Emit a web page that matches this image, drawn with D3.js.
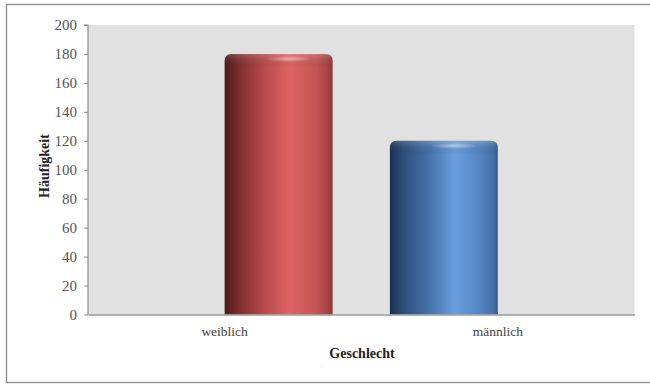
<!DOCTYPE html>
<html>
<head>
<meta charset="utf-8">
<script src="https://cdn.jsdelivr.net/npm/d3@7"></script>
<style>
  html, body { margin: 0; padding: 0; background: #fff; }
  svg { display: block; }
  text { font-family: "Liberation Serif", "Times New Roman", serif; }
</style>
</head>
<body>
<svg id="chart" width="650" height="385"></svg>
<script>
// Chart data
const categories = ["weiblich", "männlich"];
const seriesNames = ["männlich", "weiblich"];          // slot order inside each category group
const counts = { weiblich: 180, männlich: 120 };
const yTicks = [0, 20, 40, 60, 80, 100, 120, 140, 160, 180, 200];
const yTitle = "Häufigkeit";
const xTitle = "Geschlecht";

const svg = d3.select("#chart");
const plot = { left: 88, right: 634.5, top: 25, bottom: 314.5 };

// Outer frame
svg.append("rect")
  .attr("x", 6.5).attr("y", 4.5)
  .attr("width", 660).attr("height", 378)
  .attr("fill", "#fff").attr("stroke", "#8c8c8c").attr("stroke-width", 1.3);

// Plot background
svg.append("rect")
  .attr("x", plot.left).attr("y", plot.top)
  .attr("width", plot.right - plot.left).attr("height", plot.bottom - plot.top)
  .attr("fill", "#e1e1e1");

// Scales
const x0 = d3.scaleBand().domain(categories).range([plot.left, plot.right]).padding(0);
const x1 = d3.scaleBand().domain(seriesNames).range([0, x0.bandwidth()])
  .paddingInner(0).paddingOuter(0.265);
const y = d3.scaleLinear().domain([0, 200]).range([plot.bottom, plot.top]);

// Gradients: cylinder-like horizontal shading
const defs = svg.append("defs");
const palettes = {
  weiblich: [
    [0, "#4a1a1a"], [0.12, "#7a2c2c"], [0.35, "#b44848"], [0.6, "#e06464"],
    [0.85, "#c45454"], [0.95, "#a84444"], [1, "#8a3838"]
  ],
  männlich: [
    [0, "#1a3050"], [0.12, "#2c4c78"], [0.35, "#4470a8"], [0.6, "#6a9ede"],
    [0.85, "#5282c0"], [0.95, "#4472aa"], [1, "#365e90"]
  ]
};
const gradId = {};
Object.entries(palettes).forEach(([name, stops], i) => {
  const g = defs.append("linearGradient").attr("id", "grad" + i)
    .attr("x1", "0%").attr("x2", "100%").attr("y1", "0%").attr("y2", "0%");
  stops.forEach(([o, c]) => g.append("stop").attr("offset", o).attr("stop-color", c));
  gradId[name] = "grad" + i;
});
// Top sheen
const rg = defs.append("radialGradient").attr("id", "sheen")
  .attr("cx", "50%").attr("cy", "50%").attr("r", "50%");
rg.append("stop").attr("offset", 0).attr("stop-color", "#fff").attr("stop-opacity", 0.45);
rg.append("stop").attr("offset", 1).attr("stop-color", "#fff").attr("stop-opacity", 0);
const vg = defs.append("linearGradient").attr("id", "topShade")
  .attr("x1", "0%").attr("x2", "0%").attr("y1", "0%").attr("y2", "100%");
vg.append("stop").attr("offset", 0).attr("stop-color", "#fff").attr("stop-opacity", 0.18);
vg.append("stop").attr("offset", 1).attr("stop-color", "#000").attr("stop-opacity", 0.0);

// Bars: each category gets its own series slot
const bars = categories.map(c => ({ cat: c, series: c, value: counts[c] }));

function barPath(x, top, w, bottom, r) {
  return `M${x},${bottom} L${x},${top + r} Q${x},${top} ${x + r},${top} ` +
         `L${x + w - r},${top} Q${x + w},${top} ${x + w},${top + r} L${x + w},${bottom} Z`;
}

const gBars = svg.append("g");
bars.forEach(d => {
  const bx = x0(d.cat) + x1(d.series);
  const bw = x1.bandwidth();
  const top = y(d.value);
  gBars.append("path")
    .attr("d", barPath(bx, top, bw, plot.bottom, 7))
    .attr("fill", `url(#${gradId[d.series]})`);
  // upper rim shading
  gBars.append("path")
    .attr("d", barPath(bx, top, bw, top + 14, 7))
    .attr("fill", "url(#topShade)");
  // highlight on the rounded top
  gBars.append("ellipse")
    .attr("cx", bx + bw * 0.6).attr("cy", top + 5)
    .attr("rx", bw * 0.22).attr("ry", 3)
    .attr("fill", "url(#sheen)");
});

// Y axis
const yAxis = d3.axisLeft(y).tickValues(yTicks).tickSize(4).tickPadding(7);
const gy = svg.append("g").attr("transform", `translate(${plot.left},0)`).call(yAxis);
gy.select(".domain").attr("stroke", "#8a8a8a").attr("stroke-width", 1.2)
  .attr("d", `M-4,${plot.top}H0V${plot.bottom}`);
gy.selectAll(".tick line").attr("stroke", "#8a8a8a");
gy.selectAll(".tick text")
  .attr("fill", "#555").attr("font-size", 15)
  .attr("font-family", "'Liberation Serif', serif");

// X axis (line + category labels, no tick marks)
const xAxis = d3.axisBottom(x0).tickSize(0).tickPadding(12);
const gx = svg.append("g").attr("transform", `translate(0,${plot.bottom})`).call(xAxis);
gx.select(".domain").attr("stroke", "#9a9a9a").attr("stroke-width", 1.6);
gx.selectAll(".tick text")
  .attr("fill", "#444").attr("font-size", 13.5)
  .attr("font-family", "'Liberation Serif', serif");

// Axis titles
svg.append("text")
  .attr("x", 362).attr("y", 358)
  .attr("text-anchor", "middle")
  .attr("font-size", 14).attr("font-weight", "bold").attr("fill", "#222")
  .text(xTitle);
svg.append("text")
  .attr("transform", "translate(49,166) rotate(-90)")
  .attr("text-anchor", "middle")
  .attr("font-size", 14).attr("font-weight", "bold").attr("fill", "#222")
  .text(yTitle);
</script>
</body>
</html>
